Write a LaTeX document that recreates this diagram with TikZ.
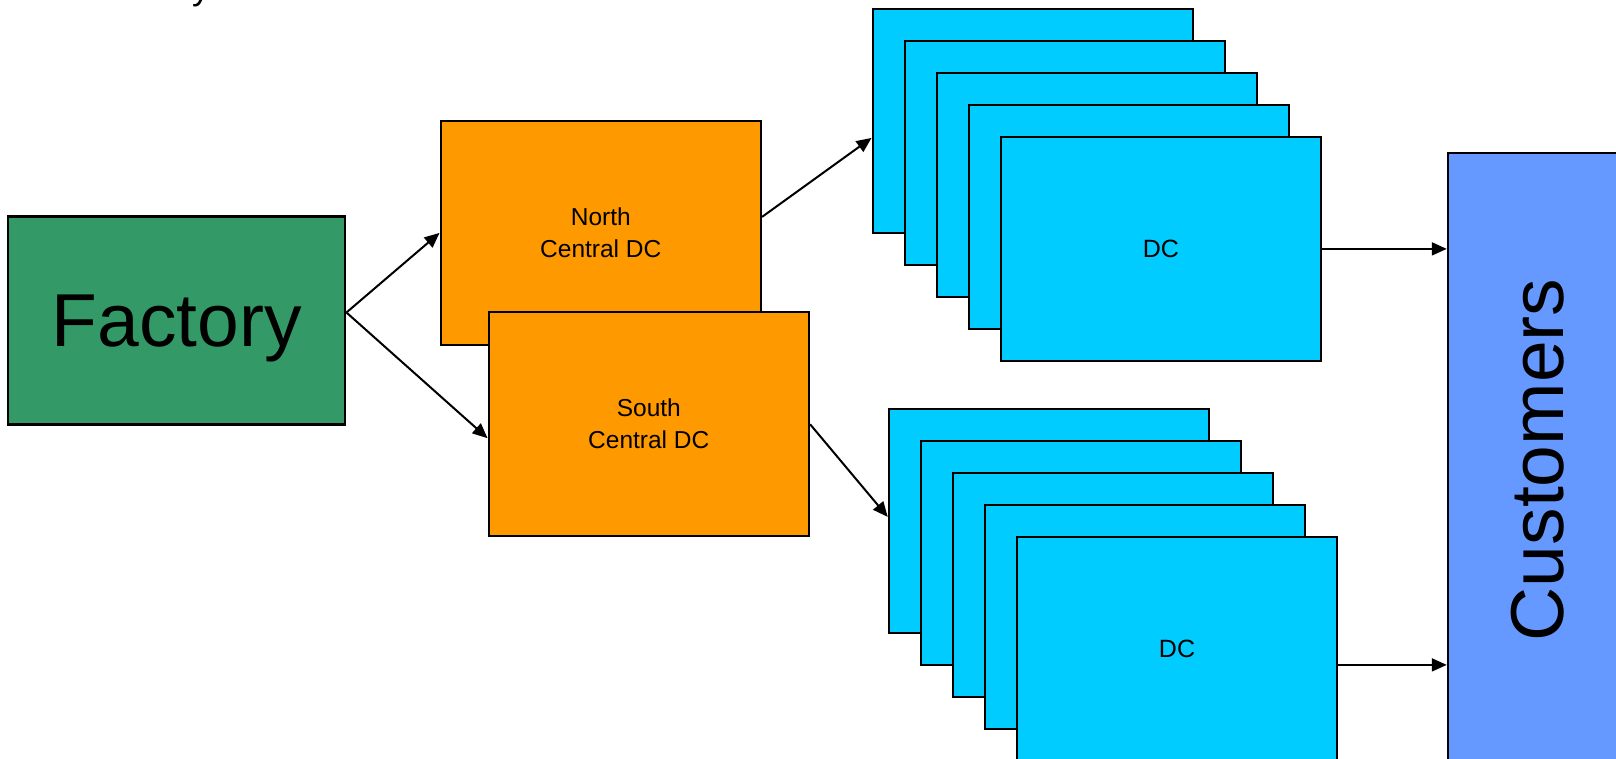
\documentclass[tikz,border=0pt]{standalone}
\usepackage{fontspec}
\setmainfont{Liberation Sans}
\usepackage{xcolor}
\definecolor{colFactory}{HTML}{339966}
\definecolor{colRegional}{HTML}{FF9900}
\definecolor{colLocal}{HTML}{00CCFF}
\definecolor{colCustomer}{HTML}{6699FF}
\usetikzlibrary{arrows.meta}
\tikzset{
    flowbox/.style={
        draw=black, fill=#1,
        line width=2.5pt,
        inner sep=0pt,
        align=center
    },
    flowbox/.default=colLocal,
    dcbox/.style={flowbox=colLocal, minimum width=320pt, minimum height=224pt,
        font=\fontsize{25}{30}\selectfont},
    rdcbox/.style={flowbox=colRegional, minimum width=320pt, minimum height=224pt,
        font=\fontsize{24.5}{32}\selectfont},
    flowarrow/.style={-{Triangle[length=15pt, width=13pt]}, line width=2pt, color=black},
}

\begin{document}
\begin{tikzpicture}[x=1pt, y=-1pt]
    \useasboundingbox (0,0) rectangle (1616,759);

    % title line, cut off by the top edge
    \node[font=\fontsize{36}{40}\selectfont, anchor=base west, inner sep=0pt]
          (title) at (192,0) {y};

    \node[flowbox=colFactory, minimum width=337pt, minimum height=208pt,
          font=\fontsize{75}{90}\selectfont, text depth=0pt] (fac)
          at (176.7,320.5) {Factory};

    \node[rdcbox] (nor) at (600.8,232.9) {North\\Central DC};
    \node[rdcbox] (sth) at (648.8,424.2) {South\\Central DC};

    % upper DC stack
    \node[dcbox] (t1) at (1032.8,120.9) {};
    \node[dcbox] (t2) at ([shift={(32,32)}]t1) {};
    \node[dcbox] (t3) at ([shift={(32,32)}]t2) {};
    \node[dcbox] (t4) at ([shift={(32,32)}]t3) {};
    \node[dcbox] (t5) at ([shift={(32,32)}]t4) {DC};

    % lower DC stack
    \node[dcbox] (b1) at (1049,520.9) {};
    \node[dcbox] (b2) at ([shift={(32,32)}]b1) {};
    \node[dcbox] (b3) at ([shift={(32,32)}]b2) {};
    \node[dcbox] (b4) at ([shift={(32,32)}]b3) {};
    \node[dcbox] (b5) at ([shift={(32,32)}]b4) {DC};

    \node[flowbox=colCustomer, minimum width=180pt, minimum height=614pt,
          font=\fontsize{75}{90}\selectfont] (cust)
          at (1538,460) {\rotatebox{90}{Customers}};

    \draw[flowarrow] ([yshift=8pt]fac.east) -- (nor.west);
    \draw[flowarrow] ([yshift=8pt]fac.east) -- ([yshift=-14pt]sth.west);
    \draw[flowarrow] ([yshift=16pt]nor.east) -- ([yshift=-17pt]t1.west);
    \draw[flowarrow] (sth.east) -- ([yshift=4pt]b1.west);
    \draw[flowarrow] (t5.east) -- (t5.east -| cust.west);
    \draw[flowarrow] ([yshift=-16pt]b5.east) -- ([yshift=-16pt]b5.east -| cust.west);
\end{tikzpicture}
\end{document}
